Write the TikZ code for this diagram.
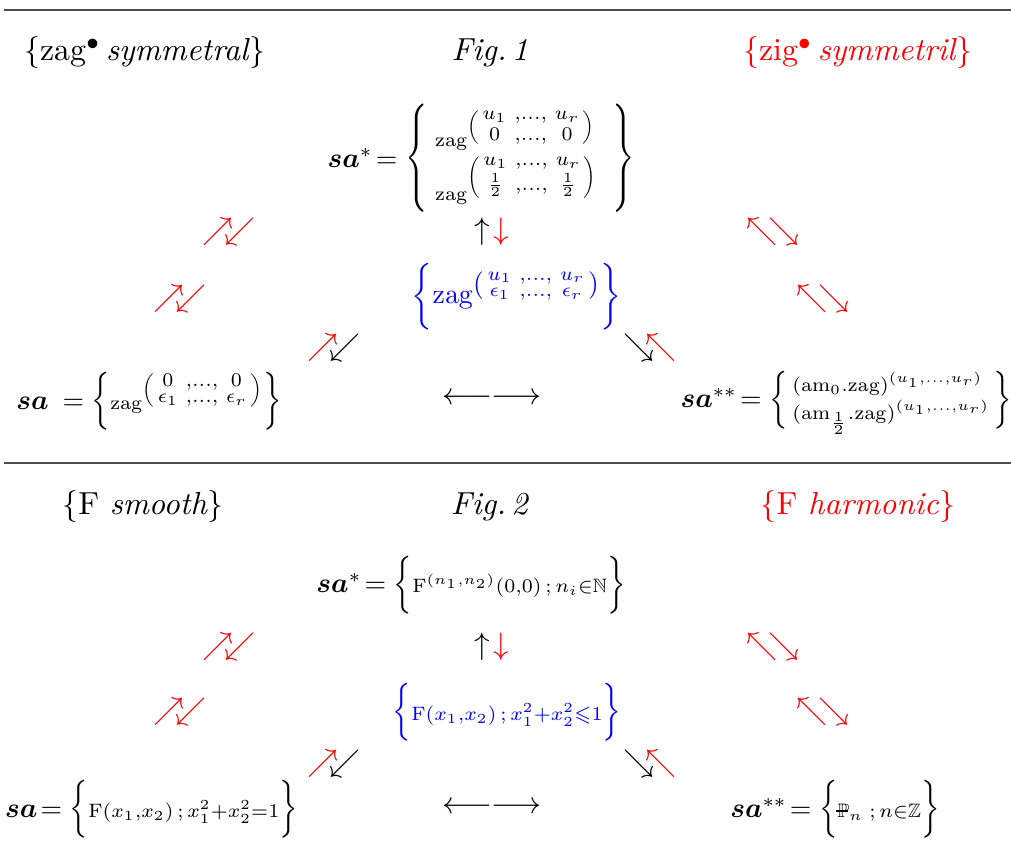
\documentclass[tikz,border=0pt]{standalone}
\usepackage{amsmath,amssymb}
\usepackage{bm}
\usepackage{tikz}

\newcommand{\Pbar}{\mbox{\ooalign{$\scriptstyle\mathbb{P}$\cr\kern-0.06em\rule[0.5ex]{0.42em}{0.45pt}\cr}}}
\newcommand{\pair}[1]{\left(\begin{smallmatrix}#1\end{smallmatrix}\right)}
\newcommand{\lset}[1][1.16]{\mathopen{\scalebox{1}[#1]{$\Big\{$}}}
\newcommand{\rset}[1][1.16]{\mathclose{\scalebox{1}[#1]{$\Big\}$}}}
\newcommand{\Lset}{\mathopen{\scalebox{1}[1.3]{$\Bigg\{$}}}
\newcommand{\Rset}{\mathclose{\scalebox{1}[1.3]{$\Bigg\}$}}}

\tikzset{
  title/.style={inner sep=1pt,scale=1.08},
  sym/.style={inner sep=1pt,scale=1.05},
  set/.style={inner sep=1pt,scale=0.94}
}

\begin{document}
\begin{tikzpicture}

\useasboundingbox (0,0) rectangle (12.036,10.238);

% separating lines
\draw[gray!60!black] (0.05,10.119) -- (12.036,10.119);
\draw[gray!60!black] (0.05,4.726) -- (12.036,4.726);

% Fig. 1
\node[title] (ta1) at (1.726,9.607) {$\{$zag$^\bullet$\,\textit{symmetral}$\}$};
\node[title] (tf1) at (5.833,9.607) {\textit{Fig.\,1}};
\node[title,red] (tb1) at (10.214,9.607) {$\{$zig$^\bullet$\,\textit{symmetril}$\}$};

\node[set] (sstar1) at (5.732,8.351) {$\bm{sa}^{*}\!=\Lset\begin{array}{@{\;}l@{\;\;}}
  \scriptstyle\mathrm{zag}^{\pair{u_1 & ,\dots, & u_r\\ 0 & ,\dots, & 0}}\\
  \scriptstyle\mathrm{zag}^{\pair{u_1 & ,\dots, & u_r\\ \frac12 & ,\dots, & \frac12}}
  \end{array}\Rset$};

\node[sym] (ud1) at (5.857,7.476) {$\uparrow\mkern2mu\mathrel{\color{red}\downarrow}$};

\node[sym,red] (l11) at (2.726,7.476) {$\nearrow\mkern-5mu\swarrow$};
\node[sym,red] (l12) at (2.143,6.679) {$\nearrow\mkern-5mu\swarrow$};
\node[sym] (l13) at (3.976,6.095) {$\mathrel{\color{red}\nearrow}\mkern-5mu\swarrow$};
\node[sym,red] (r11) at (9.202,7.476) {$\nwarrow\mkern-5mu\searrow$};
\node[sym,red] (r12) at (9.798,6.679) {$\nwarrow\mkern-5mu\searrow$};
\node[sym] (r13) at (7.738,6.095) {$\searrow\mkern-5mu\mathrel{\color{red}\nwarrow}$};

\node[set,blue] (mid1) at (6.149,6.708) {$\bigg\{\mathrm{zag}^{\pair{u_1 & ,\dots, & u_r\\ \epsilon_1 & ,\dots, & \epsilon_r}}\bigg\}$};

\node[set] (s1) at (1.774,5.464) {$\bm{sa}\:=\lset\scriptstyle\mathrm{zag}^{\pair{0 & ,\dots, & 0\\ \epsilon_1 & ,\dots, & \epsilon_r}}\rset$};
\node[sym] (lr1) at (5.857,5.488) {$\longleftarrow\mkern-1mu\longrightarrow$};
\node[set] (ss1) at (10.077,5.464) {$\bm{sa}^{**}\!=\lset\begin{array}{@{\,}l@{\,}}
  \scriptstyle(\mathrm{am}_0.\mathrm{zag})^{(u_1,\dots,u_r)}\\[-2pt]
  \scriptstyle(\mathrm{am}_{\frac12}.\mathrm{zag})^{(u_1,\dots,u_r)}
  \end{array}\rset$};

% Fig. 2
\node[title] (ta2) at (1.702,4.202) {$\{$F \textit{smooth}$\}$};
\node[title] (tf2) at (5.833,4.202) {\textit{Fig.\,2}};
\node[title,red] (tb2) at (10.214,4.202) {$\{$F \textit{harmonic}$\}$};

\node[set] (sstar2) at (5.607,3.274) {$\bm{sa}^{*}\!=\lset\scriptstyle\mathrm{F}^{(n_1,n_2)}(0,0)\,;\,n_i\in\mathbb{N}\rset$};

\node[sym] (ud2) at (5.857,2.536) {$\uparrow\mkern2mu\mathrel{\color{red}\downarrow}$};

\node[sym,red] (l21) at (2.726,2.536) {$\nearrow\mkern-5mu\swarrow$};
\node[sym,red] (l22) at (2.143,1.762) {$\nearrow\mkern-5mu\swarrow$};
\node[sym] (l23) at (3.976,1.143) {$\mathrel{\color{red}\nearrow}\mkern-5mu\swarrow$};
\node[sym,red] (r21) at (9.202,2.536) {$\nwarrow\mkern-5mu\searrow$};
\node[sym,red] (r22) at (9.798,1.762) {$\nwarrow\mkern-5mu\searrow$};
\node[sym] (r23) at (7.738,1.143) {$\searrow\mkern-5mu\mathrel{\color{red}\nwarrow}$};

\node[set,blue] (mid2) at (6.036,1.756) {$\lset\scriptstyle\mathrm{F}(x_1,x_2)\,;\,x_1^2+x_2^2\leqslant1\rset$};

\node[set] (s2) at (1.804,0.601) {$\bm{sa}\!=\lset\scriptstyle\mathrm{F}(x_1,x_2)\,;\,x_1^2+x_2^2=1\rset$};
\node[sym] (lr2) at (5.857,0.619) {$\longleftarrow\mkern-1mu\longrightarrow$};
\node[set] (ss2) at (9.94,0.601) {$\bm{sa}^{**}\!=\lset\scriptstyle\Pbar_n\;;\,n\in\mathbb{Z}\rset$};

\end{tikzpicture}
\end{document}
